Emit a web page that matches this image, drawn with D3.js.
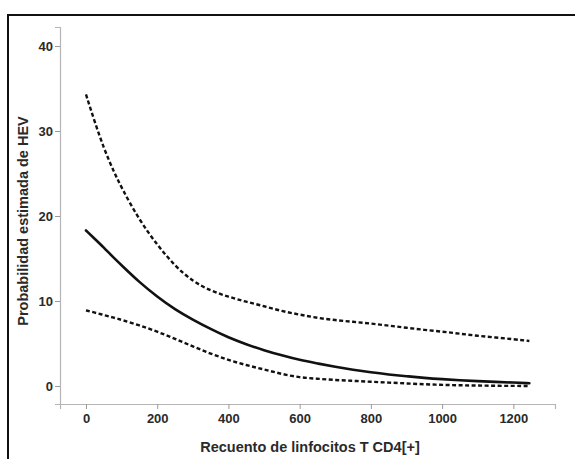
<!DOCTYPE html>
<html>
<head>
<meta charset="utf-8">
<script src="https://cdn.jsdelivr.net/npm/d3@7"></script>
<style>
  body { margin: 0; background: #fff; }
  svg { display: block; }
</style>
</head>
<body>
<div id="chart"></div>
<script>
// CD4 count values where the curves were read
var cd4 = [0, 25, 50, 75, 100, 150, 200, 250, 300, 350, 400, 450, 500, 550, 600, 650, 700, 750, 800, 850, 900, 950, 1000, 1050, 1100, 1150, 1200, 1245];

// estimated probability (%)
var estimate = [18.3, 17.3, 16.3, 15.2, 14.2, 12.2, 10.5, 9.0, 7.8, 6.7, 5.7, 4.9, 4.2, 3.6, 3.05, 2.65, 2.25, 1.9, 1.6, 1.35, 1.15, 0.95, 0.8, 0.68, 0.57, 0.48, 0.4, 0.33];

// upper and lower confidence limits (%)
var upper = [34.3, 31.0, 28.0, 25.5, 23.3, 19.5, 16.6, 14.1, 12.3, 11.2, 10.5, 9.9, 9.4, 8.8, 8.4, 8.0, 7.75, 7.55, 7.35, 7.1, 6.85, 6.6, 6.4, 6.15, 5.9, 5.7, 5.5, 5.3];
var lower = [8.9, 8.63, 8.35, 8.07, 7.78, 7.15, 6.4, 5.55, 4.65, 3.8, 3.05, 2.45, 1.95, 1.4, 1.0, 0.85, 0.7, 0.6, 0.5, 0.4, 0.3, 0.2, 0.13, 0.08, 0.05, 0.02, 0.01, 0.0];

var xTicks = [0, 200, 400, 600, 800, 1000, 1200];
var yTicks = [0, 10, 20, 30, 40];

var width = 575, height = 459;

var svg = d3.select("#chart").append("svg")
  .attr("width", width)
  .attr("height", height);

// frame (only left and top edges visible)
svg.append("path")
  .attr("d", "M8,459 L8,15 L575,15")
  .attr("fill", "none")
  .attr("stroke", "#111")
  .attr("stroke-width", 2);

//scales
var xScale = d3.scaleLinear().domain([-73, 1317]).range([60, 555]);
var yScale = d3.scaleLinear().domain([-2.12, 42.24]).range([404, 27]);

var xAxis = d3.axisBottom(xScale).tickValues(xTicks).tickFormat(d3.format("d")).tickSize(5).tickPadding(5);
var yAxis = d3.axisLeft(yScale).tickValues(yTicks).tickFormat(d3.format("d")).tickSize(5).tickPadding(2);

var gx = svg.append("g")
  .attr("transform", "translate(0,404)")
  .call(xAxis);

var gy = svg.append("g")
  .attr("transform", "translate(60,0)")
  .call(yAxis);

[gx, gy].forEach(function(g){
  g.select(".domain").attr("stroke", "#b5b5b5").attr("stroke-width", 1.2);
  g.selectAll(".tick line").attr("stroke", "#999");
  g.selectAll(".tick text")
    .attr("fill", "#2a2a2a")
    .style("font-family", "Liberation Sans, Arial, sans-serif")
    .style("font-size", "13px")
    .style("font-weight", "bold");
});

// axis titles
svg.append("text")
  .attr("x", 310)
  .attr("y", 452)
  .attr("text-anchor", "middle")
  .attr("fill", "#2a2a2a")
  .style("font-family", "Liberation Sans, Arial, sans-serif")
  .style("font-size", "14.5px")
  .style("font-weight", "bold")
  .text("Recuento de linfocitos T CD4[+]");

svg.append("text")
  .attr("transform", "translate(28,221) rotate(-90)")
  .attr("text-anchor", "middle")
  .attr("fill", "#2a2a2a")
  .style("font-family", "Liberation Sans, Arial, sans-serif")
  .style("font-size", "14.5px")
  .style("font-weight", "bold")
  .text("Probabilidad estimada de HEV");

var line = d3.line()
  .x(function(d, i){ return xScale(cd4[i]); })
  .y(function(d){ return yScale(d); })
  .curve(d3.curveBasis);

svg.append("path")
  .attr("d", line(upper))
  .attr("fill", "none")
  .attr("stroke", "#111")
  .attr("stroke-width", 2.4)
  .attr("stroke-dasharray", "4,2.5");

svg.append("path")
  .attr("d", line(lower))
  .attr("fill", "none")
  .attr("stroke", "#111")
  .attr("stroke-width", 2.4)
  .attr("stroke-dasharray", "4,2.5");

svg.append("path")
  .attr("d", line(estimate))
  .attr("fill", "none")
  .attr("stroke", "#111")
  .attr("stroke-width", 2.6)
  .attr("stroke-linecap", "round");
</script>
</body>
</html>
